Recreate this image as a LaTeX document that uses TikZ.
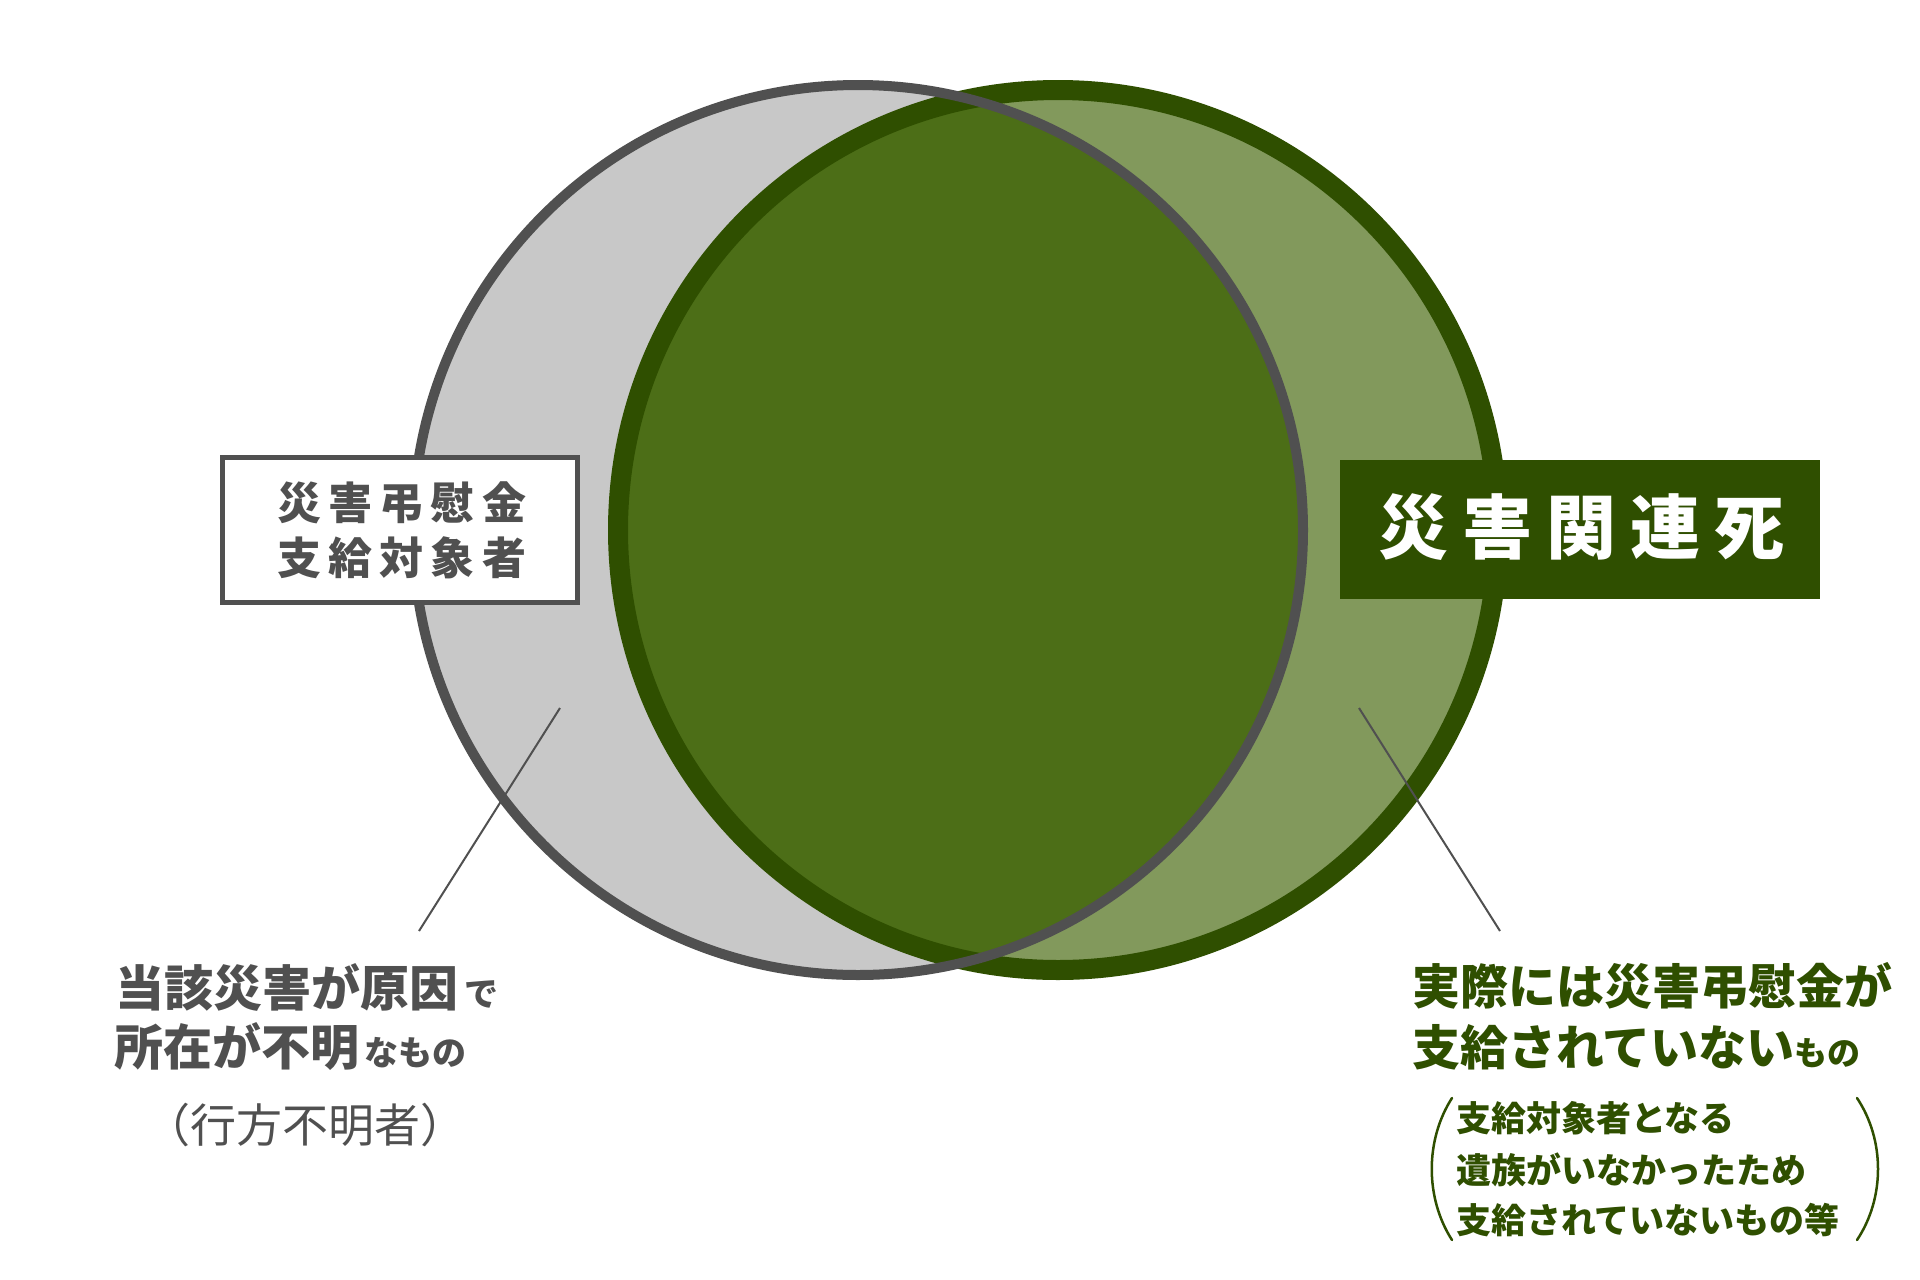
\documentclass[tikz,border=0pt]{standalone}
\usepackage{fontspec}
\newfontfamily\jp{Noto Sans CJK JP}
\newfontfamily\jpsp{Noto Sans CJK JP}[LetterSpace=16]
\newfontfamily\jpspb{Noto Sans CJK JP}[LetterSpace=20]
\definecolor{grayfill}{HTML}{C8C8C8}
\definecolor{graystroke}{HTML}{505050}
\definecolor{greenstroke}{HTML}{2F4F00}
\definecolor{greenlight}{HTML}{82995C}
\definecolor{greenmid}{HTML}{4C6E17}
\tikzset{
  txt/.style={inner sep=0pt, outer sep=0pt},
  leader/.style={draw=graystroke, line width=2pt},
  paren/.style={draw=greenstroke, line width=2.5pt, line cap=round},
}
\begin{document}
\begin{tikzpicture}[x=1pt,y=-1pt]
\useasboundingbox (0,0) rectangle (1920,1280);
\fill[white] (0,0) rectangle (1920,1280);
% circles
\coordinate (cg) at (858,530);
\coordinate (cv) at (1058,530);
\fill[grayfill] (cg) circle[radius=445pt];
\fill[greenlight] (cv) circle[radius=440pt];
\begin{scope}
  \clip (cg) circle[radius=445pt];
  \fill[greenmid] (cv) circle[radius=440pt];
\end{scope}
\draw[greenstroke, line width=20pt] (cv) circle[radius=440pt];
\draw[graystroke, line width=10pt] (cg) circle[radius=445pt];
% left box
\node[txt, draw=graystroke, line width=5pt, fill=white, minimum width=355pt, minimum height=145pt] (lbox) at (400,530) {};
\node[txt, text=graystroke, font=\jpsp\bfseries\fontsize{44pt}{55pt}\selectfont, align=center] (ltitle) at (402,530) {災害弔慰金\\支給対象者};
% right box
\node[txt, fill=greenstroke, minimum width=480pt, minimum height=139pt] (rbox) at (1580,529.5) {};
\node[txt, text=white, font=\jpspb\bfseries\fontsize{70pt}{80pt}\selectfont] (rtitle) at (1581,527) {災害関連死};
% leader lines
\coordinate (l1) at (560,708);
\coordinate (l2) at (419,931);
\coordinate (r1) at (1359,708);
\coordinate (r2) at (1500,931);
\draw[leader] (l1) -- (l2);
\draw[leader] (r1) -- (r2);
% bottom left text
\node[txt, anchor=west, text=graystroke, font=\jp\bfseries\fontsize{49pt}{52pt}\selectfont] (bl1) at (115,987) {当該災害が原因\hspace{6pt}{\fontsize{34pt}{36pt}\selectfont で}};
\node[txt, anchor=west, text=graystroke, font=\jp\bfseries\fontsize{49pt}{52pt}\selectfont] (bl2) at (114,1047) {所在が不明\hspace{5pt}{\fontsize{34pt}{36pt}\selectfont なもの}};
\node[txt, text=graystroke, font=\jp\fontsize{46pt}{50pt}\selectfont] (bl3) at (305,1125) {（行方不明者）};
% bottom right text
\node[txt, anchor=west, text=greenstroke, font=\jp\bfseries\fontsize{48pt}{50pt}\selectfont] (br1) at (1412,986) {実際には災害弔慰金が};
\node[txt, anchor=west, text=greenstroke, font=\jp\bfseries\fontsize{48pt}{50pt}\selectfont] (br2) at (1412,1047) {支給されていない{\fontsize{33pt}{35pt}\selectfont もの}};
\node[txt, anchor=west, text=greenstroke, font=\jp\bfseries\fontsize{35pt}{38pt}\selectfont] (br3) at (1456,1118) {支給対象者となる};
\node[txt, anchor=west, text=greenstroke, font=\jp\bfseries\fontsize{35pt}{38pt}\selectfont] (br4) at (1456,1170) {遺族がいなかったため};
\node[txt, anchor=west, text=greenstroke, font=\jp\bfseries\fontsize{35pt}{38pt}\selectfont] (br5) at (1456,1220) {支給されていないもの等};
% parentheses
\coordinate (pl1) at (1452,1098);
\coordinate (pl2) at (1452,1240);
\coordinate (pr1) at (1857,1098);
\coordinate (pr2) at (1857,1240);
\draw[paren] (pl1) .. controls (1425,1140) and (1425,1198) .. (pl2);
\draw[paren] (pr1) .. controls (1885,1140) and (1885,1198) .. (pr2);
\end{tikzpicture}
\end{document}
